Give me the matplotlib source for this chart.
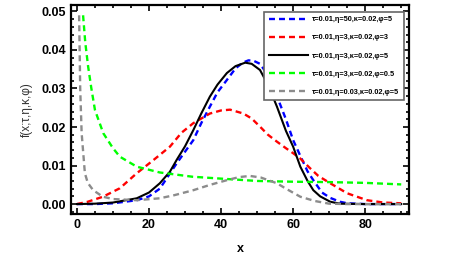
import matplotlib
matplotlib.use("Agg")
import matplotlib.pyplot as plt
from matplotlib.ticker import MultipleLocator

# values
blue_x = [0, 5, 10, 16.6, 20, 23, 27.7, 32.3, 34.5, 36.9, 39, 41.6, 44, 46, 47.6, 49, 50.8,
          53, 55.5, 58, 60, 62, 64, 65.6, 68, 70.3, 73, 75, 80, 90]
blue_y = [0, 0, 0.0002, 0.001, 0.002, 0.004, 0.0106, 0.0166, 0.021, 0.0253, 0.029, 0.0322,
          0.0352, 0.0367, 0.0373, 0.0372, 0.0364, 0.0335, 0.028, 0.022, 0.0166, 0.0125,
          0.0085, 0.0062, 0.003, 0.0016, 0.0006, 0.0002, 0, 0]

red_x = [0, 3, 7.2, 11.9, 16.6, 21.2, 25.8, 29, 32.3, 36.9, 40, 42.5, 46.2, 48.5, 50.8, 53,
         55.5, 58, 60, 62, 64.7, 67, 70.3, 75, 80.5, 85, 90]
red_y = [0, 0.0006, 0.0019, 0.0041, 0.008, 0.0114, 0.0149, 0.0185, 0.021, 0.0235, 0.0243,
         0.0245, 0.0235, 0.0222, 0.0201, 0.018, 0.0162, 0.0145, 0.0132, 0.0118, 0.0093,
         0.0073, 0.0054, 0.0028, 0.001, 0.0004, 0.0002]

black_x = [0, 5, 10, 16.6, 20, 23, 25.8, 27.7, 30, 32.3, 34.5, 36.9, 39, 41.6, 44, 46.7, 48.5,
           50.8, 53, 55.5, 58, 60, 62, 64, 65.6, 67.5, 70.3, 73, 80, 90]
black_y = [0, 0.0001, 0.0004, 0.0015, 0.003, 0.0054, 0.0084, 0.0115, 0.015, 0.0192, 0.0235,
           0.0279, 0.031, 0.034, 0.0358, 0.0367, 0.0364, 0.0348, 0.031, 0.0253, 0.019,
           0.0149, 0.0097, 0.006, 0.0036, 0.002, 0.0006, 0.0001, 0, 0]

green_x = [1.7, 2.3, 3.1, 4, 5, 7.3, 10, 11.9, 16.6, 23, 32, 40, 50, 60, 70, 80, 90]
green_y = [0.049, 0.042, 0.0357, 0.030, 0.0244, 0.0184, 0.0145, 0.0123, 0.0097, 0.0082,
           0.0071, 0.0066, 0.006, 0.0058, 0.0057, 0.0055, 0.0051]

gray_x = [0.6, 0.9, 1.3, 2.2, 3, 4.5, 7.2, 10, 16.6, 23, 27, 32.3, 37, 41.6, 45, 48, 51,
          55.5, 58, 62, 66, 70, 75, 90]
gray_y = [0.049, 0.03, 0.0184, 0.008, 0.0055, 0.0036, 0.0019, 0.0013, 0.001, 0.0015, 0.0023,
          0.0036, 0.005, 0.0062, 0.007, 0.0073, 0.0069, 0.0054, 0.004, 0.0019, 0.0008,
          0.0001, 0, 0]

labels = [
    "τ=0.01,η=50,κ=0.02,φ=5",
    "τ=0.01,η=3,κ=0.02,φ=3",
    "τ=0.01,η=3,κ=0.02,φ=5",
    "τ=0.01,η=3,κ=0.02,φ=0.5",
    "τ=0.01,η=0.03,κ=0.02,φ=5",
]

plt.rcParams["font.family"] = ["Liberation Sans", "DejaVu Sans"]
plt.rcParams["font.weight"] = "bold"
plt.rcParams["lines.scale_dashes"] = False

fig = plt.figure(figsize=(4.66, 2.57), dpi=100)
ax = fig.add_axes([0.152, 0.167, 0.726, 0.814])

dash = (4.3, 2.9)
ax.plot(blue_x, blue_y, color="#0000ff", lw=1.7, dashes=dash, label=labels[0])
ax.plot(red_x, red_y, color="#ff0000", lw=1.7, dashes=dash, label=labels[1])
ax.plot(black_x, black_y, color="black", lw=1.5, label=labels[2])
ax.plot(green_x, green_y, color="#00ff00", lw=1.7, dashes=dash, label=labels[3])
ax.plot(gray_x, gray_y, color="#8c8c8c", lw=1.7, dashes=dash, label=labels[4])

ax.set_xlim(-1.7, 92.2)
ax.set_ylim(-0.0026, 0.0517)
ax.xaxis.set_major_locator(MultipleLocator(20))
ax.xaxis.set_minor_locator(MultipleLocator(5))
ax.yaxis.set_major_locator(MultipleLocator(0.01))
ax.yaxis.set_minor_locator(MultipleLocator(0.002))
ax.yaxis.set_major_formatter(plt.FuncFormatter(lambda v, p: f"{v:.2f}"))

ax.tick_params(which="both", direction="in", top=True, right=True, labelsize=9, width=1.2)
ax.tick_params(which="major", length=4)
ax.tick_params(which="minor", length=2)
for s in ax.spines.values():
    s.set_linewidth(1.6)

ax.set_xlabel("x", fontsize=9, fontweight="bold", labelpad=9)
ax.set_ylabel("f(x;τ,η,κ,φ)", fontsize=8.5, fontweight="normal", color="#333333", labelpad=6)

leg = ax.legend(loc="upper right", bbox_to_anchor=(0.995, 0.985),
                prop={"weight": "bold", "size": 5.3}, handlelength=5.3,
                labelspacing=1.5, borderpad=0.6, handletextpad=0.6,
                fancybox=False, framealpha=1)
leg.get_frame().set_edgecolor("#666666")
leg.get_frame().set_linewidth(1.2)

fig.savefig("out.png", dpi=100)
